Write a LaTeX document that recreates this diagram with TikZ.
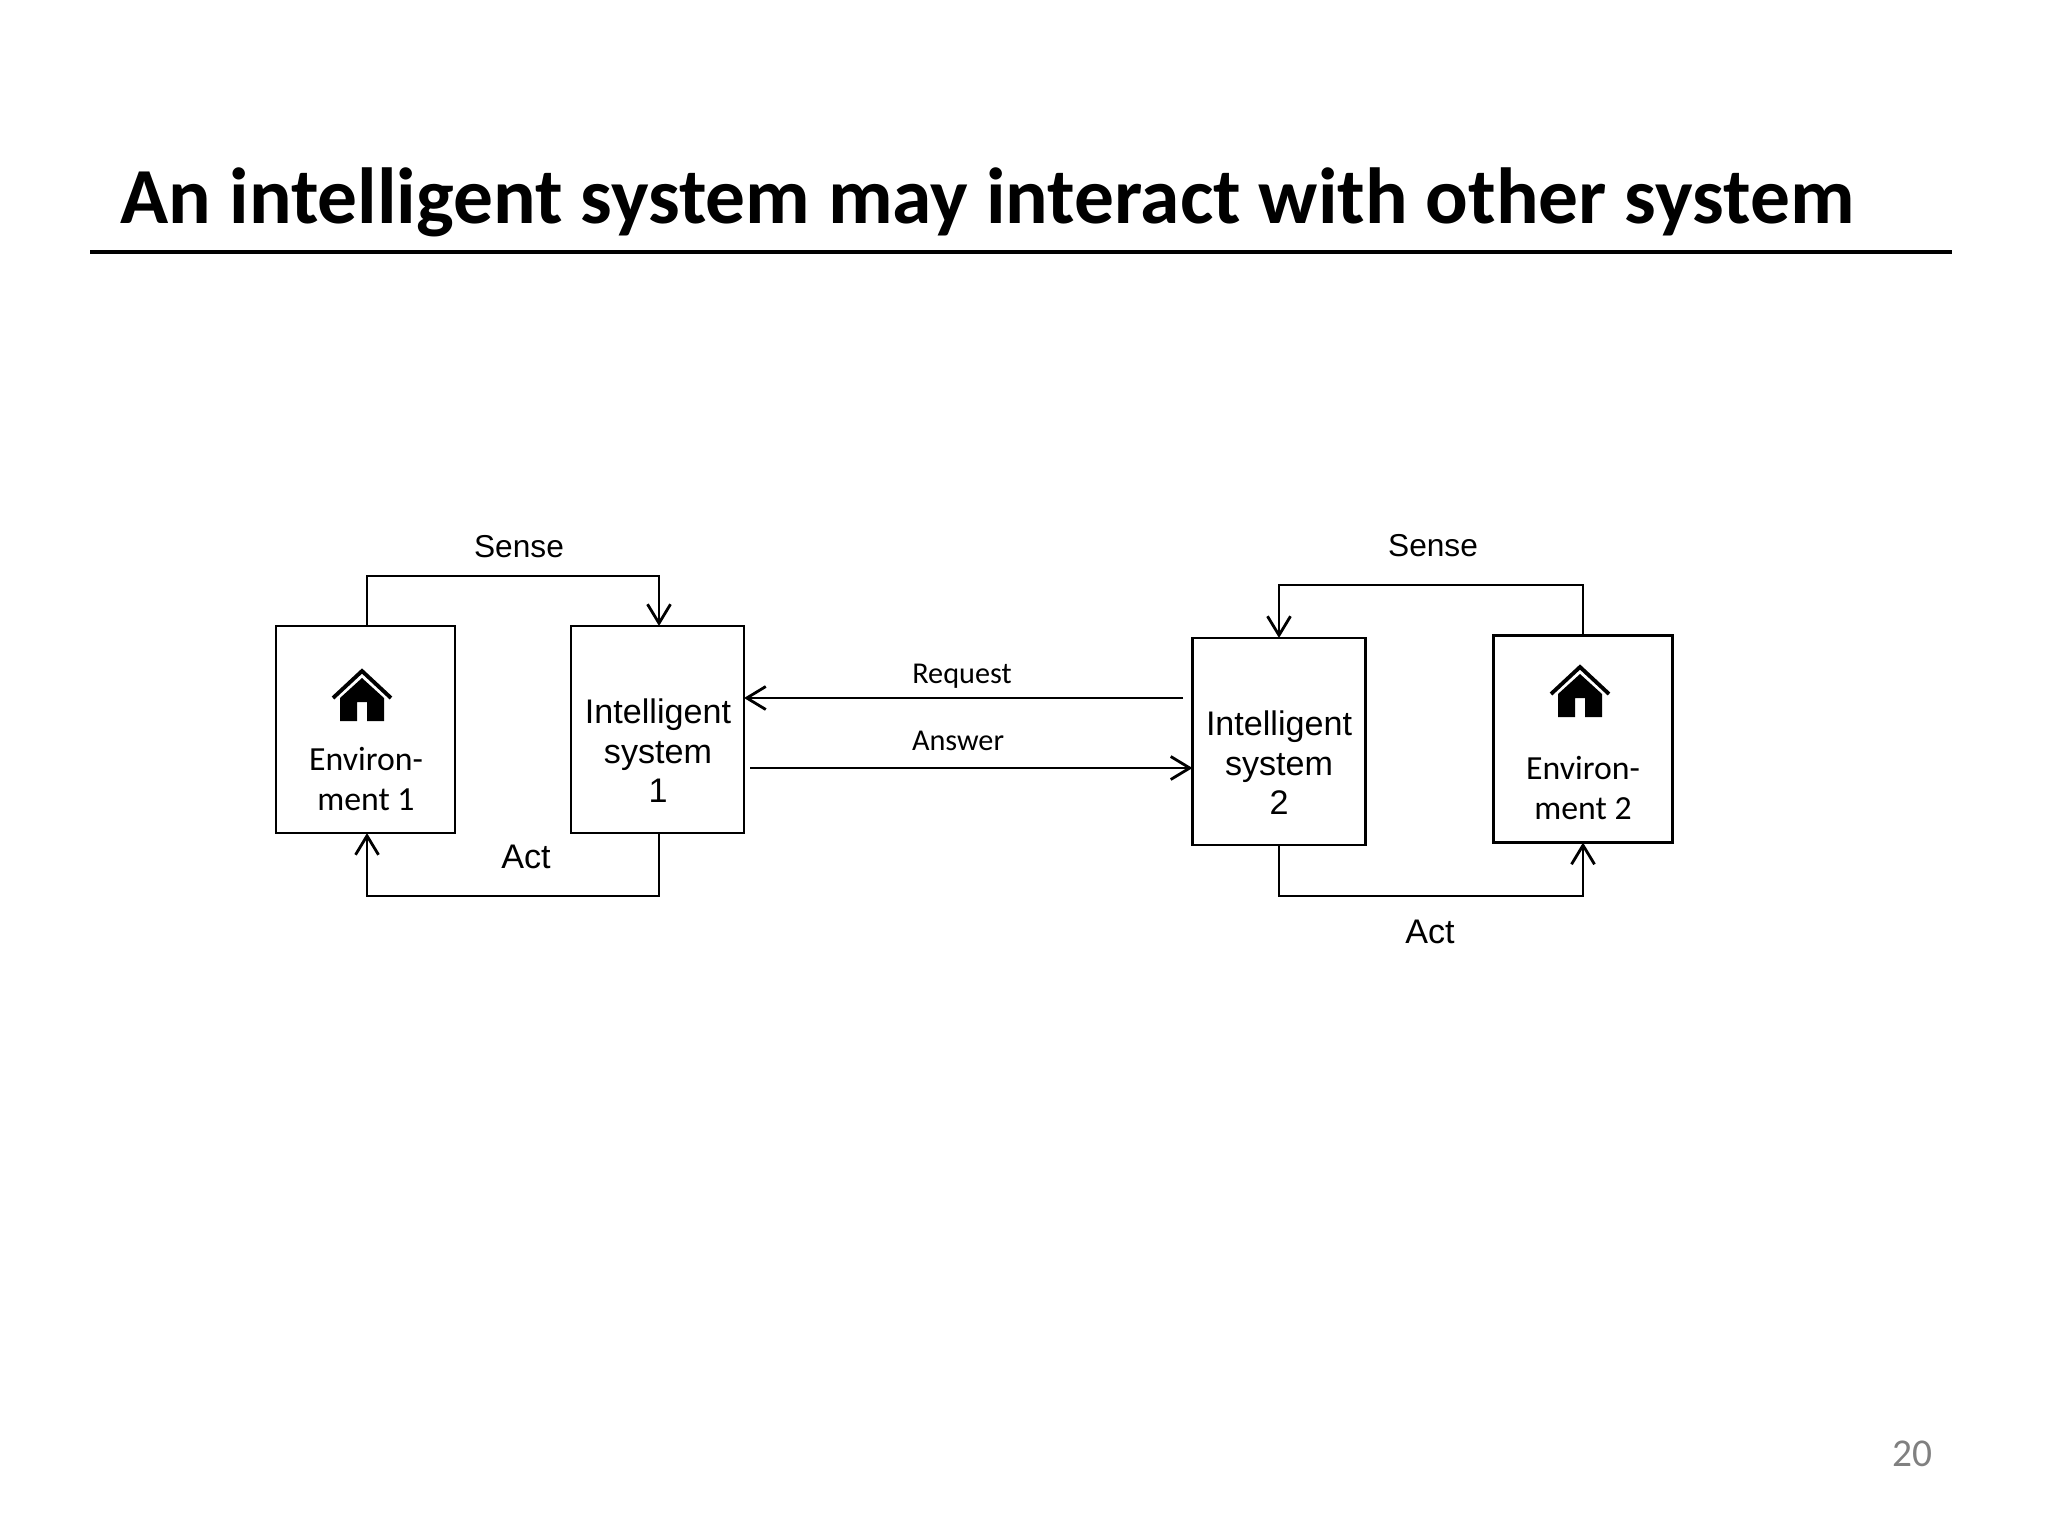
\documentclass[tikz,border=0pt]{standalone}
\usepackage{fontspec}
\setmainfont{Carlito}
\newfontfamily\arialfont{Liberation Sans}
\usetikzlibrary{arrows.meta}
\tikzset{
  envbox/.style={draw, line width=.8pt, minimum width=1.79cm, minimum height=2.07cm, inner sep=0, outer sep=0},
  sysbox/.style={draw, line width=.8pt, minimum width=1.73cm, minimum height=2.07cm, inner sep=0, outer sep=0},
  envtext/.style={align=center, inner sep=0, font=\fontsize{9.6}{11.1}\selectfont},
  systext/.style={align=center, inner sep=0, font=\arialfont\fontsize{9.7}{11.2}\selectfont},
  flowtext/.style={inner sep=0, font=\fontsize{8.6}{10}\selectfont},
  looptext/.style={inner sep=0, font=\arialfont\fontsize{9}{10}\selectfont},
  acttext/.style={inner sep=0, font=\arialfont\fontsize{9.7}{10}\selectfont},
  conn/.style={line width=.8pt, -{Straight Barb[length=1.9mm,width=2.3mm,line width=.8pt]}},
  house/.pic={
    \fill (-22,30) -- (0,10) -- (22,30) -- (22,53) -- (5,53) -- (5,34) -- (-5,34) -- (-5,53) -- (-22,53) -- cycle;
    \draw[line width=1.1pt] (-29,30) -- (0,3) -- (29,30);
  }
}
\begin{document}
\begin{tikzpicture}[x=.01cm, y=-.01cm]
  \useasboundingbox (0,0) rectangle (2048,1536);
  \node[anchor=base west, inner sep=0, font=\bfseries\fontsize{22.6}{26}\selectfont] (title) at (120,223) {An intelligent system may interact with other system};
  \coordinate (ruleL) at (90,252);
  \coordinate (ruleR) at (1952,252);
  \draw[line width=1pt] (ruleL) -- (ruleR);
  \node[envbox] (envA) at (365.5,729.5) {};
  \node[sysbox] (isA) at (657.5,729.5) {};
  \node[sysbox] (isB) at (1279,741.5) {};
  \node[envbox] (envB) at (1583,739) {};
  \pic at (362,668) {house};
  \pic at (1580,664) {house};
  \node[envtext] (envAtext) at (366,779) {Environ-\\ment 1};
  \node[envtext] (envBtext) at (1583,788) {Environ-\\ment 2};
  \node[systext] (isAtext) at (658,751) {Intelligent\\system\\1};
  \node[systext] (isBtext) at (1279,763) {Intelligent\\system\\2};
  \coordinate (senseA) at (500,576);
  \coordinate (actA) at (500,896);
  \coordinate (senseB) at (1400,585);
  \coordinate (actB) at (1400,896);
  \coordinate (reqStart) at (1183,698);
  \coordinate (ansStart) at (750,768);
  \draw[conn] ([xshift=.43pt]envA.north) |- (senseA) -| ([xshift=.43pt]isA.north);
  \draw[conn] ([xshift=.43pt]isA.south) |- (actA) -| ([xshift=.43pt]envA.south);
  \draw[conn] (envB.north) |- (senseB) -| (isB.north);
  \draw[conn] (isB.south) |- (actB) -| (envB.south);
  \draw[conn] (reqStart) -- (reqStart -| isA.east);
  \draw[conn] (ansStart) -- (ansStart -| isB.west);
  \node[looptext] (senseAtext) at (519,547) {Sense};
  \node[looptext] (senseBtext) at (1433,546) {Sense};
  \node[acttext] (actAtext) at (526,857) {Act};
  \node[acttext] (actBtext) at (1430,932) {Act};
  \node[flowtext] (reqtext) at (962,676) {Request};
  \node[flowtext] (anstext) at (958,741) {Answer};
  \node[font=\fontsize{11.2}{13}\selectfont, text=black!50, inner sep=0] (page) at (1912,1454) {20};
\end{tikzpicture}
\end{document}
